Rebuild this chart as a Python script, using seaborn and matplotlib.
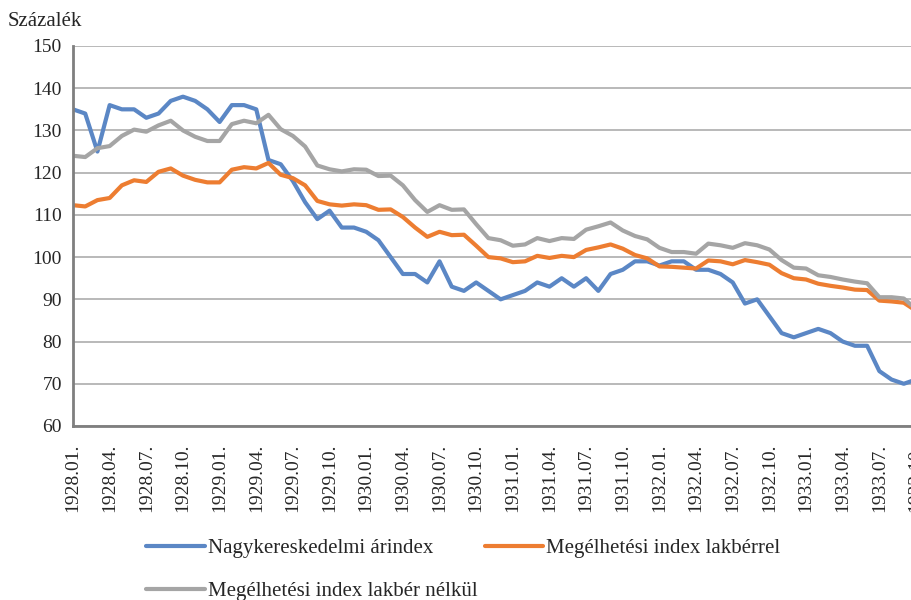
import matplotlib
matplotlib.use("Agg")
import matplotlib.pyplot as plt
import numpy as np
import pandas as pd
import seaborn as sns

# monthly labels 1928.01 .. 1933.10
years = [1928, 1929, 1930, 1931, 1932, 1933]
months = [f"{y}.{m:02d}." for y in years for m in range(1, 13)][:70]

# Nagykereskedelmi árindex
wholesale = [135, 134, 125, 136, 135, 135, 133, 134, 137, 138, 137, 135,
             132, 136, 136, 135, 123, 122, 118, 113, 109, 111, 107, 107,
             106, 104, 100, 96, 96, 94, 99, 93, 92, 94, 92, 90,
             91, 92, 94, 93, 95, 93, 95, 92, 96, 97, 99, 99,
             98, 99, 99, 97, 97, 96, 94, 89, 90, 86, 82, 81,
             82, 83, 82, 80, 79, 79, 73, 71, 70, 71]
# Megélhetési index lakbérrel
with_rent = [112.3, 112, 113.5, 114, 117, 118.2, 117.8, 120.2, 121, 119.3, 118.3, 117.7,
             117.7, 120.7, 121.3, 121, 122.3, 119.5, 118.7, 117, 113.3, 112.5, 112.2, 112.5,
             112.3, 111.2, 111.3, 109.5, 107, 104.8, 106, 105.2, 105.3, 102.7, 100, 99.7,
             98.8, 99, 100.3, 99.8, 100.3, 100, 101.7, 102.3, 103, 102, 100.5, 99.7,
             97.8, 97.7, 97.5, 97.3, 99.2, 99, 98.3, 99.3, 98.8, 98.2, 96.2, 95,
             94.7, 93.7, 93.2, 92.8, 92.3, 92.2, 89.7, 89.5, 89.2, 87.3]
# Megélhetési index lakbér nélkül
no_rent = [124, 123.7, 125.8, 126.3, 128.7, 130.2, 129.7, 131.2, 132.3, 130, 128.5, 127.5,
           127.5, 131.5, 132.3, 131.7, 133.7, 130.3, 128.7, 126.2, 121.7, 120.8, 120.3, 120.8,
           120.7, 119.2, 119.3, 117, 113.5, 110.7, 112.3, 111.2, 111.3, 107.8, 104.5, 104,
           102.7, 103, 104.5, 103.8, 104.5, 104.3, 106.5, 107.3, 108.2, 106.3, 105, 104.2,
           102.2, 101.2, 101.2, 100.8, 103.2, 102.8, 102.2, 103.3, 102.8, 101.8, 99.3, 97.5,
           97.3, 95.7, 95.3, 94.7, 94.2, 93.8, 90.5, 90.5, 90.2, 87.7]

names = ["Nagykereskedelmi árindex", "Megélhetési index lakbérrel",
         "Megélhetési index lakbér nélkül"]
colors = ["#5B87C5", "#ED7D31", "#A5A5A5"]

df = pd.DataFrame({
    "t": list(range(len(months))) * 3,
    "value": wholesale + with_rent + no_rent,
    "series": [names[0]] * 70 + [names[1]] * 70 + [names[2]] * 70,
})

sns.set_style("white")
plt.rcParams["font.family"] = ["Liberation Serif", "DejaVu Serif"]

fig = plt.figure(figsize=(9.12, 6), dpi=100)
ax = fig.add_axes([73 / 912, 1 - 426 / 600, 843 / 912, 380 / 600])

sns.lineplot(data=df, x="t", y="value", hue="series", hue_order=names,
             palette=colors, linewidth=3, ax=ax, legend=False)

ax.set_xlim(0, 69)
ax.set_ylim(60, 150)
ax.set_yticks(range(60, 151, 10))
ax.set_xticks(range(0, 70, 3))
ax.set_xticklabels(months[::3], rotation=90, fontsize=14)
ax.tick_params(axis="y", labelsize=14, direction="out", length=5, width=1.5, color="#7f7f7f", pad=3)
ax.tick_params(axis="x", direction="out", length=5, width=1.5, color="#7f7f7f", pad=8)
ax.set_xlabel("")
ax.set_ylabel("")
ax.grid(axis="y", color="#a6a6a6", linewidth=1.1)
ax.set_axisbelow(True)
for s in ["top", "right"]:
    ax.spines[s].set_visible(False)
for s in ["left", "bottom"]:
    ax.spines[s].set_color("#7f7f7f")
    ax.spines[s].set_linewidth(2)

fig.text(8 / 912, 1 - 22 / 600, "Százalék", fontsize=15, va="center", ha="left")

handles = [plt.Line2D([], [], color=c, linewidth=3) for c in colors]
order = [0, 2, 1]
fig.legend([handles[i] for i in order], [names[i] for i in order],
           loc="upper left", bbox_to_anchor=(140 / 912, 1 - 532 / 600),
           ncol=2, frameon=False, fontsize=15, handlelength=2.8,
           handletextpad=0.15, columnspacing=0.35, labelspacing=1.15,
           borderaxespad=0, borderpad=0.3)

fig.savefig("out.png", dpi=100)
